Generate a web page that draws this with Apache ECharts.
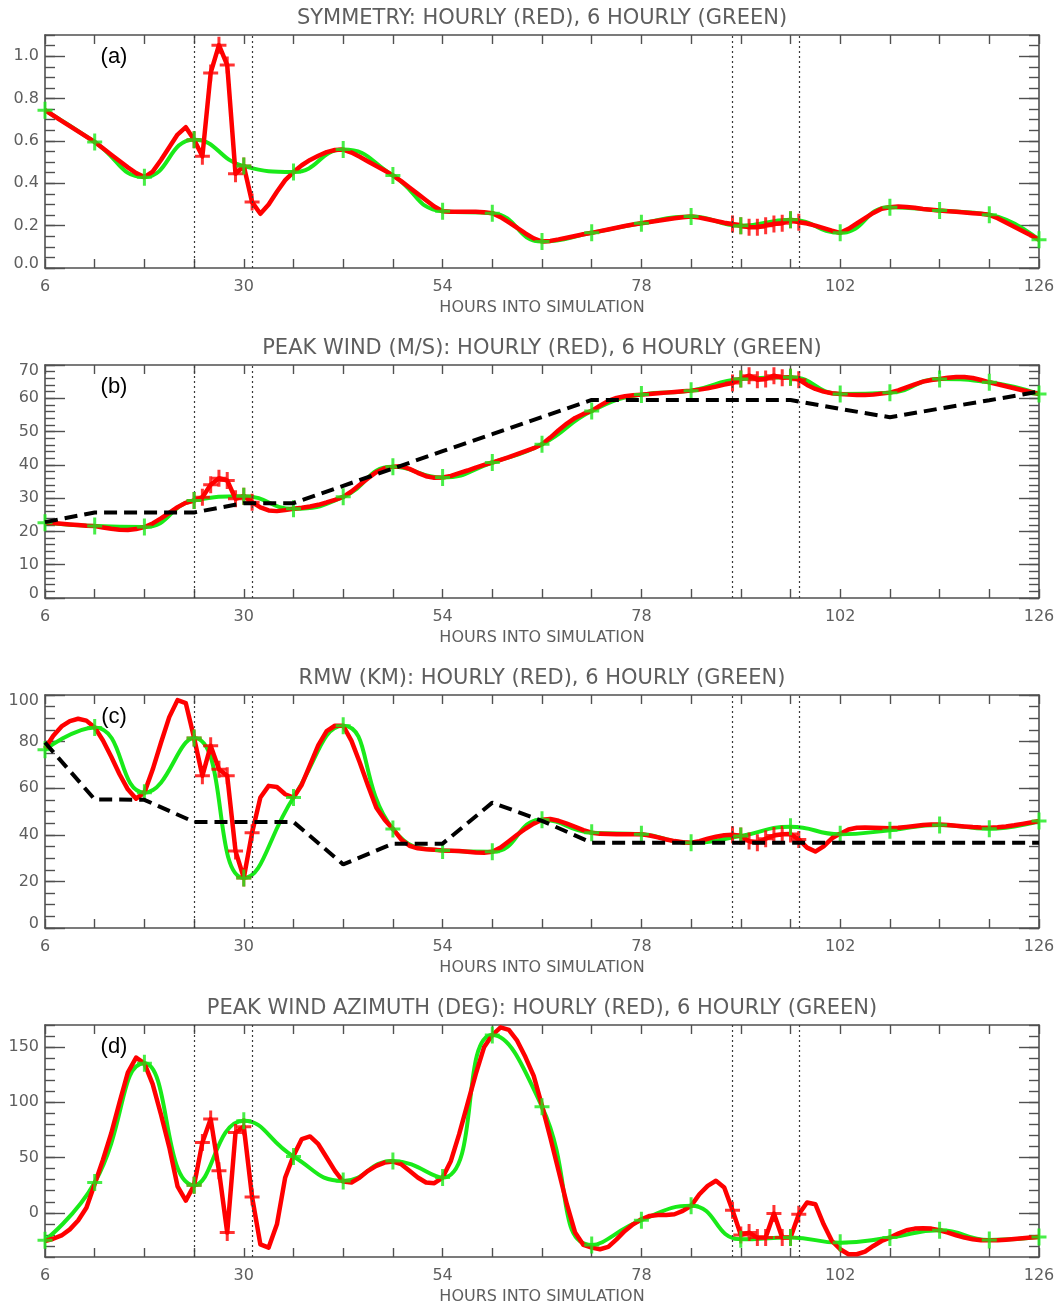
<!DOCTYPE html>
<html>
<head>
<meta charset="utf-8">
<script src="https://cdn.jsdelivr.net/npm/echarts@6/dist/echarts.min.js"></script>
<style>
  html, body { margin: 0; padding: 0; background: #ffffff; }
  #chart { width: 1060px; height: 1306px; }
</style>
</head>
<body>
<div id="chart"></div>
<script>
// ---- time axes -------------------------------------------------------------
const HOURS_6 = [6, 12, 18, 24, 30, 36, 42, 48, 54, 60, 66, 72, 78, 84, 90, 96, 102, 108, 114, 120, 126];
const HOURS_1 = Array.from({ length: 121 }, (_, i) => 6 + i);          // hourly output times 6..126
const X_TICK_LABELS = [6, 30, 54, 78, 102, 126];
const EVENT_LINES = [24, 31, 89, 97];                                     // dotted markers
const HOURLY_MARK_HOURS = [24, 25, 26, 27, 28, 29, 30, 31, 89, 90, 91, 92, 93, 94, 95, 96, 97];

// ---- (a) symmetry ------------------------------------------------------------
const symmetrySixHourly = [0.745, 0.595, 0.429, 0.606, 0.481, 0.453, 0.559, 0.437, 0.268, 0.259, 0.125,
  0.166, 0.211, 0.243, 0.200, 0.228, 0.166, 0.287, 0.271, 0.251, 0.133];
const symmetryHourly = [
  0.745, 0.720, 0.695, 0.670, 0.645, 0.620, 0.595, 0.565, 0.535, 0.505,   // 6-15
  0.475, 0.448, 0.429, 0.455, 0.510, 0.570, 0.630, 0.665, 0.606, 0.527,   // 16-25
  0.921, 1.052, 0.958, 0.445, 0.481, 0.311, 0.256, 0.300, 0.360, 0.415,   // 26-35
  0.453, 0.485, 0.510, 0.530, 0.547, 0.557, 0.559, 0.545, 0.525, 0.503,   // 36-45
  0.482, 0.460, 0.437, 0.410, 0.380, 0.350, 0.320, 0.290, 0.268, 0.265,   // 46-55
  0.265, 0.265, 0.265, 0.263, 0.259, 0.240, 0.215, 0.190, 0.163, 0.140,   // 56-65
  0.125, 0.128, 0.135, 0.143, 0.151, 0.159, 0.166, 0.174, 0.182, 0.190,   // 66-75
  0.198, 0.205, 0.211, 0.217, 0.223, 0.229, 0.235, 0.240, 0.243, 0.238,   // 76-85
  0.230, 0.222, 0.214, 0.208, 0.200, 0.192, 0.192, 0.200, 0.208, 0.211,   // 86-95
  0.228, 0.216, 0.210, 0.200, 0.188, 0.176, 0.166, 0.185, 0.210, 0.235,   // 96-105
  0.260, 0.280, 0.287, 0.290, 0.288, 0.284, 0.279, 0.275, 0.271, 0.268,   // 106-115
  0.265, 0.262, 0.259, 0.256, 0.251, 0.235, 0.215, 0.195, 0.175, 0.155,   // 116-125
  0.133];
const symmetryTicks = [0, 0.2, 0.4, 0.6, 0.8, 1.0];

// ---- (b) peak wind -----------------------------------------------------------
const windSixHourly = [22.6, 21.6, 21.3, 29.3, 30.6, 26.8, 30.4, 39.4, 36.2, 40.7, 46.2,
  56.2, 61.1, 62.3, 65.8, 66.3, 61.3, 61.7, 65.8, 64.8, 61.3];
const windHourly = [
  22.6, 22.5, 22.3, 22.1, 21.9, 21.7, 21.6, 21.2, 20.8, 20.5,   // 6-15
  20.4, 20.7, 21.3, 22.4, 23.9, 25.6, 27.3, 28.6, 29.3, 30.3,   // 16-25
  34.0, 36.0, 35.3, 29.8, 30.6, 28.8, 27.2, 26.3, 26.1, 26.4,   // 26-35
  26.8, 27.1, 27.5, 28.0, 28.7, 29.5, 30.4, 32.0, 34.0, 36.0,   // 36-45
  37.8, 39.0, 39.4, 39.6, 38.8, 37.6, 36.6, 36.1, 36.2, 36.7,   // 46-55
  37.5, 38.3, 39.2, 40.0, 40.7, 41.5, 42.3, 43.2, 44.1, 45.0,   // 56-65
  46.2, 48.2, 50.4, 52.4, 54.1, 55.3, 56.2, 57.8, 59.2, 60.1,   // 66-75
  60.6, 60.9, 61.1, 61.3, 61.5, 61.7, 61.9, 62.1, 62.3, 62.6,   // 76-85
  63.0, 63.5, 64.1, 64.6, 65.8, 66.8, 65.6, 65.8, 66.8, 66.2,   // 86-95
  66.3, 65.6, 64.0, 62.8, 62.0, 61.5, 61.3, 61.1, 61.0, 61.0,   // 96-105
  61.1, 61.4, 61.7, 62.4, 63.3, 64.2, 65.0, 65.5, 65.8, 66.2,   // 106-115
  66.4, 66.4, 66.1, 65.5, 64.8, 64.2, 63.6, 63.0, 62.4, 61.8,   // 116-125
  61.3];
const windBestTrack = [22.8, 25.7, 25.7, 25.7, 28.5, 28.5, 33.7, 38.9, 44.1, 49.2, 54.4,
  59.5, 59.5, 59.5, 59.5, 59.5, 56.8, 54.3, 56.9, 59.4, 62.0];
const windTicks = [0, 10, 20, 30, 40, 50, 60, 70];

// ---- (c) radius of maximum wind ---------------------------------------------
const rmwSixHourly = [76.5, 86.1, 58.1, 81.5, 21.5, 56.0, 86.8, 42.5, 33.3, 32.7, 46.5,
  40.9, 40.2, 36.6, 39.5, 43.5, 40.2, 42.0, 44.2, 42.6, 45.9];
const rmwHourly = [
  77.0, 82.5, 86.5, 88.8, 89.8, 89.0, 86.1, 80.5, 73.5, 66.0,   // 6-15
  59.5, 55.5, 58.1, 68.0, 79.5, 90.5, 97.8, 96.5, 81.5, 65.3,   // 16-25
  78.2, 68.1, 65.3, 33.0, 21.5, 40.9, 56.0, 61.0, 60.5, 57.4,   // 26-35
  56.0, 61.5, 70.0, 78.5, 84.5, 86.8, 86.8, 80.3, 71.0, 61.0,   // 36-45
  51.6, 46.5, 42.5, 38.0, 35.3, 34.2, 33.8, 33.6, 33.3, 33.2,   // 46-55
  33.0, 32.7, 32.4, 32.3, 32.7, 34.5, 37.2, 40.0, 42.6, 44.8,   // 56-65
  46.5, 46.8, 46.0, 44.8, 43.4, 42.0, 40.9, 40.4, 40.3, 40.2,   // 66-75
  40.2, 40.2, 40.2, 39.7, 38.9, 38.0, 37.3, 36.8, 36.6, 37.3,   // 76-85
  38.3, 39.2, 39.8, 40.0, 39.5, 37.3, 36.6, 38.3, 39.7, 40.2,   // 86-95
  40.3, 38.0, 34.5, 32.8, 35.0, 38.5, 40.5, 42.3, 43.0, 43.1,   // 96-105
  43.0, 42.9, 42.8, 43.0, 43.4, 43.8, 44.2, 44.4, 44.4, 44.2,   // 106-115
  43.9, 43.6, 43.3, 43.1, 43.0, 43.2, 43.6, 44.1, 44.7, 45.3,   // 116-125
  45.9];
const rmwBestTrack = [79.6, 55.2, 55.0, 45.5, 45.5, 45.5, 27.3, 36.2, 36.2, 53.8, 46.0,
  36.6, 36.6, 36.6, 36.6, 36.6, 36.6, 36.6, 36.6, 36.6, 36.6];
const rmwTicks = [0, 20, 40, 60, 80, 100];

// ---- (d) peak wind azimuth ---------------------------------------------------
const azimuthSixHourly = [-24.9, 27.4, 135.3, 25.0, 83.3, 51.0, 28.9, 47.0, 31.9, 160.9, 96.0,
  -29.1, -6.7, 6.3, -24.0, -22.4, -27.0, -22.4, -15.8, -24.6, -21.8];
const azimuthHourly = [
  -25.5, -23.5, -20.5, -15.0, -7.0, 4.5, 26.0, 48.0, 72.0, 100.0,     // 6-15
  127.0, 140.5, 135.3, 116.5, 89.0, 59.5, 24.0, 11.0, 25.0, 63.7,     // 16-25
  84.9, 38.0, -17.9, 72.7, 78.0, 14.4, -28.5, -31.5, -10.4, 32.0,     // 26-35
  51.6, 66.7, 69.1, 62.1, 50.1, 38.0, 28.3, 27.4, 31.9, 38.0,         // 36-45
  42.5, 45.5, 46.4, 44.0, 38.0, 32.0, 27.4, 26.8, 31.9, 47.0,         // 46-55
  71.2, 98.4, 125.6, 149.8, 160.9, 167.9, 165.5, 155.8, 141.0, 124.0, // 56-65
  97.0, 68.2, 38.0, 7.8, -17.9, -29.1, -31.5, -33.0, -30.9, -24.0,    // 66-75
  -16.4, -10.4, -5.8, -2.8, -1.9, -1.9, -1.3, 1.7, 6.3, 16.8,         // 76-85
  24.4, 29.0, 23.0, 2.3, -20.0, -17.9, -22.4, -22.4, -0.7, -22.4,     // 86-95
  -22.4, -1.3, 9.3, 7.8, -10.4, -25.5, -33.0, -37.5, -37.5, -35.1,    // 96-105
  -30.0, -25.5, -22.4, -18.8, -15.8, -14.3, -14.0, -14.3, -15.8, -17.9, // 106-115
  -20.3, -22.4, -24.0, -24.9, -24.9, -24.9, -24.3, -23.7, -23.1, -22.4, // 116-125
  -21.8];
const azimuthTicks = [0, 50, 100, 150];

// ---- styling -----------------------------------------------------------------
const RED = '#ff0000';
const GREEN = '#19ea19';
const FRAME = '#505050';
const TEXT = '#5e5e5e';
const FONT = 'DejaVu Sans, sans-serif';
const GRID_TOPS = [35, 365, 695, 1025];
const GRID_H = 233;
const CROSS = 'path://M6,0H9V7H15V10H9V17H6V10H0V7H6Z';

const panels = [
  { title: 'SYMMETRY: HOURLY (RED), 6 HOURLY (GREEN)', tag: '(a)',
    hourly: symmetryHourly, sixHourly: symmetrySixHourly, track: null,
    min: 0, max: 1.1, step: 0.05, ticks: symmetryTicks, digits: 1 },
  { title: 'PEAK WIND (M/S): HOURLY (RED), 6 HOURLY (GREEN)', tag: '(b)',
    hourly: windHourly, sixHourly: windSixHourly, track: windBestTrack,
    min: 0, max: 70, step: 2, ticks: windTicks, digits: 0 },
  { title: 'RMW (KM): HOURLY (RED), 6 HOURLY (GREEN)', tag: '(c)',
    hourly: rmwHourly, sixHourly: rmwSixHourly, track: rmwBestTrack,
    min: 0, max: 100, step: 5, ticks: rmwTicks, digits: 0 },
  { title: 'PEAK WIND AZIMUTH (DEG): HOURLY (RED), 6 HOURLY (GREEN)', tag: '(d)',
    hourly: azimuthHourly, sixHourly: azimuthSixHourly, track: null,
    min: -40, max: 170, step: 10, ticks: azimuthTicks, digits: 0 }
];

const zip = (xs, ys) => xs.map((x, i) => [x, ys[i]]);
const frameLine = { show: true, onZero: false, lineStyle: { color: FRAME, width: 1.6 } };
const tickLine = { color: FRAME, width: 1.4 };
const labelFont = { fontFamily: FONT, fontSize: 16, color: TEXT };

const option = {
  animation: false,
  backgroundColor: '#ffffff',
  title: [], grid: [], xAxis: [], yAxis: [], series: [], graphic: []
};

panels.forEach((p, k) => {
  const top = GRID_TOPS[k];
  option.grid.push({ left: 45, right: 21, top: top, height: GRID_H, containLabel: false });

  option.title.push({
    text: p.title, left: 542, top: top - 27, textAlign: 'center', padding: 0,
    textStyle: { fontFamily: FONT, fontSize: 21, fontWeight: 'normal', color: TEXT }
  });

  option.graphic.push({
    type: 'text', x: 114, y: top + 22, silent: true,
    style: { text: p.tag, font: '22px "Liberation Sans", Arial, sans-serif', fill: '#000000',
             align: 'center', verticalAlign: 'middle' }
  });

  // time axes: bottom carries labels and name, top mirrors the tick marks
  const xBase = { type: 'value', gridIndex: k, min: 6, max: 126, interval: 6,
                  axisLine: frameLine, splitLine: { show: false },
                  axisTick: { inside: true, length: 9, lineStyle: tickLine } };
  option.xAxis.push(Object.assign({}, xBase, {
    position: 'bottom',
    axisLabel: Object.assign({ margin: 11,
                 formatter: v => X_TICK_LABELS.includes(v) ? String(v) : '' }, labelFont),
    name: 'HOURS INTO SIMULATION', nameLocation: 'middle', nameGap: 32,
    nameTextStyle: labelFont
  }));
  option.xAxis.push(Object.assign({}, xBase, { position: 'top', axisLabel: { show: false } }));

  // value axes: short ticks at every step, long ticks on the labelled values, both sides;
  // labels sitting on the frame corners are nudged inside the frame
  const near = (a, b) => Math.abs(a - b) < 1e-6;
  const isLabelled = v => p.ticks.some(t => near(t, v));
  const yLabel = v => {
    if (!isLabelled(v)) return '';
    const s = v.toFixed(p.digits);
    if (near(v, p.min)) return '{lo|' + s + '}';
    if (near(v, p.max)) return '{hi|' + s + '}';
    return s;
  };
  const yBase = { type: 'value', gridIndex: k, min: p.min, max: p.max, splitLine: { show: false } };
  ['left', 'right'].forEach(side => {
    option.yAxis.push(Object.assign({}, yBase, {
      position: side, interval: p.step, axisLine: frameLine,
      axisTick: { inside: true, length: 10, lineStyle: tickLine },
      axisLabel: side === 'left' ? Object.assign({
        margin: 6, formatter: yLabel,
        rich: {
          lo: Object.assign({ padding: [0, 0, 9, 0] }, labelFont),
          hi: Object.assign({ padding: [12, 0, 0, 0] }, labelFont)
        }
      }, labelFont) : { show: false }
    }));
    option.yAxis.push(Object.assign({}, yBase, {
      position: side, axisLine: { show: false, onZero: false },
      axisTick: { inside: true, length: 20, lineStyle: tickLine, customValues: p.ticks },
      axisLabel: { show: false }
    }));
  });

  const xi = 2 * k, yi = 4 * k;
  // 6-hourly series as a smooth curve, with the event markers behind it
  option.series.push({
    type: 'line', xAxisIndex: xi, yAxisIndex: yi, z: 2,
    data: zip(HOURS_6, p.sixHourly), smooth: true, showSymbol: false,
    lineStyle: { color: GREEN, width: 4, join: 'round' },
    markLine: {
      silent: true, symbol: ['none', 'none'], label: { show: false }, animation: false,
      lineStyle: { type: [2, 3], color: '#3a3a3a', width: 1.2 },
      emphasis: { disabled: true },
      data: EVENT_LINES.map(h => ({ xAxis: h }))
    }
  });
  // hourly series
  option.series.push({
    type: 'line', xAxisIndex: xi, yAxisIndex: yi, z: 3,
    data: zip(HOURS_1, p.hourly), showSymbol: false,
    lineStyle: { color: RED, width: 4.5, join: 'round' }
  });
  // hourly markers inside the two event windows
  option.series.push({
    type: 'scatter', xAxisIndex: xi, yAxisIndex: yi, z: 4,
    data: HOURLY_MARK_HOURS.map(h => [h, p.hourly[h - 6]]),
    symbol: CROSS, symbolSize: [15, 17], itemStyle: { color: RED }
  });
  // 6-hourly markers
  option.series.push({
    type: 'scatter', xAxisIndex: xi, yAxisIndex: yi, z: 5,
    data: zip(HOURS_6, p.sixHourly),
    symbol: CROSS, symbolSize: [15, 17], itemStyle: { color: GREEN }
  });
  // best-track reference
  if (p.track) {
    option.series.push({
      type: 'line', xAxisIndex: xi, yAxisIndex: yi, z: 6,
      data: zip(HOURS_6, p.track), showSymbol: false,
      lineStyle: { color: '#000000', width: 4, type: [13, 7] }
    });
  }
});

const chart = echarts.init(document.getElementById('chart'), null, { renderer: 'canvas' });
chart.setOption(option);
</script>
</body>
</html>
